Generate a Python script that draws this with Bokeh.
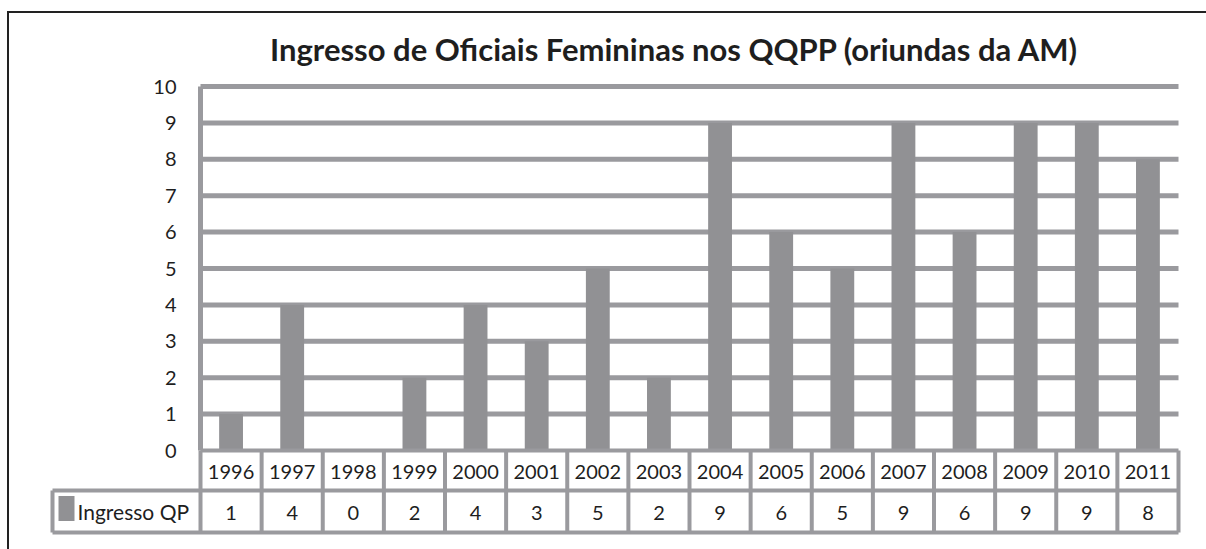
from bokeh.plotting import figure
from bokeh.models import Range1d, ColumnDataSource
from bokeh.core.properties import value
from bokeh.embed import file_html
from bokeh.resources import INLINE

# ---- data ----
title = "Ingresso de Oficiais Femininas nos QQPP (oriundas da AM)"
series_name = "Ingresso QP"
years = ["1996", "1997", "1998", "1999", "2000", "2001", "2002", "2003",
         "2004", "2005", "2006", "2007", "2008", "2009", "2010", "2011"]
values = [1, 4, 0, 2, 4, 3, 5, 2, 9, 6, 5, 9, 6, 9, 9, 8]
y_ticks = [0, 1, 2, 3, 4, 5, 6, 7, 8, 9, 10]

# ---- layout helpers (page pixel -> data units) ----
W, H = 1206, 549
PX0, UX = 200.0, 61.125      # page x of category 0 edge, px per category
PY0, UY = 450.0, 36.4        # page y of value 0, px per unit


def X(px):
    return (px - PX0) / UX


def Y(py):
    return (PY0 - py) / UY


n = len(years)
GRID = "#9a9a9e"
BAR = "#919194"
TXT = "#1e1e1e"
FONT = value("Lato")

p = figure(width=W, height=H, output_backend="svg", toolbar_location=None,
           x_range=Range1d(X(0), X(W)), y_range=Range1d(Y(H), Y(0)),
           min_border=0, min_border_left=0, min_border_right=0,
           min_border_top=0, min_border_bottom=0)
p.axis.visible = False
p.xgrid.visible = False
p.ygrid.visible = False
p.outline_line_color = None
p.background_fill_color = "white"
p.border_fill_color = "white"

# outer frame (top and left)
p.segment(x0=[X(6.5), X(7.5)], y0=[Y(11.5), Y(11.5)],
          x1=[X(1206), X(7.5)], y1=[Y(11.5), Y(549)],
          line_color="#222222", line_width=2)

# gridlines
gl = [t for t in y_ticks if t > 0]
p.segment(x0=[0] * len(gl), y0=gl, x1=[n] * len(gl), y1=gl,
          line_color=GRID, line_width=5)
# vertical axis line
p.segment(x0=[0], y0=[0], x1=[0], y1=[max(y_ticks)], line_color=GRID, line_width=5)

# bars
src = ColumnDataSource(dict(x=[i + 0.5 for i in range(n)], top=values,
                            years=years, lab=[str(v) for v in values]))
p.vbar(x="x", top="top", bottom=0, width=0.39, source=src,
       fill_color=BAR, line_color=None)

# y tick labels
p.text(x=[X(176)] * len(y_ticks), y=y_ticks, text=[str(t) for t in y_ticks],
       text_align="right", text_baseline="middle", text_font=FONT,
       text_font_size="20px", text_color=TXT)

# data table lines
y_top, y_mid, y_bot = 0, Y(490), Y(532)
x_leg = X(52)
hx0 = [0, x_leg, x_leg]
hy = [y_top, y_mid, y_bot]
hx1 = [n, n, n]
p.segment(x0=hx0, y0=hy, x1=hx1, y1=hy, line_color=GRID, line_width=4)
vx = list(range(n + 1))
p.segment(x0=vx, y0=[y_top] * len(vx), x1=vx, y1=[y_bot] * len(vx),
          line_color=GRID, line_width=4)
p.segment(x0=[x_leg], y0=[y_mid], x1=[x_leg], y1=[y_bot],
          line_color=GRID, line_width=4)

# table texts
p.text(x="x", y=Y(471), text="years", source=src, text_align="center",
       text_baseline="middle", text_font=FONT, text_font_size="20px", text_color=TXT)
p.text(x="x", y=Y(512), text="lab", source=src, text_align="center",
       text_baseline="middle", text_font=FONT, text_font_size="20px", text_color=TXT)

# legend key + label
p.rect(x=[X(66)], y=[Y(508)], width=16, height=25, width_units="screen",
       height_units="screen", fill_color=BAR, line_color=None)
p.text(x=[X(77)], y=[Y(511)], text=[series_name], text_align="left",
       text_baseline="middle", text_font=FONT, text_font_size="21px", text_color=TXT)

# title
p.text(x=[X(674)], y=[Y(48)], text=[title], text_align="center",
       text_baseline="middle", text_font=FONT, text_font_style="bold",
       text_font_size="31px", text_color=TXT)

open("out.html", "w").write(file_html(p, INLINE))
